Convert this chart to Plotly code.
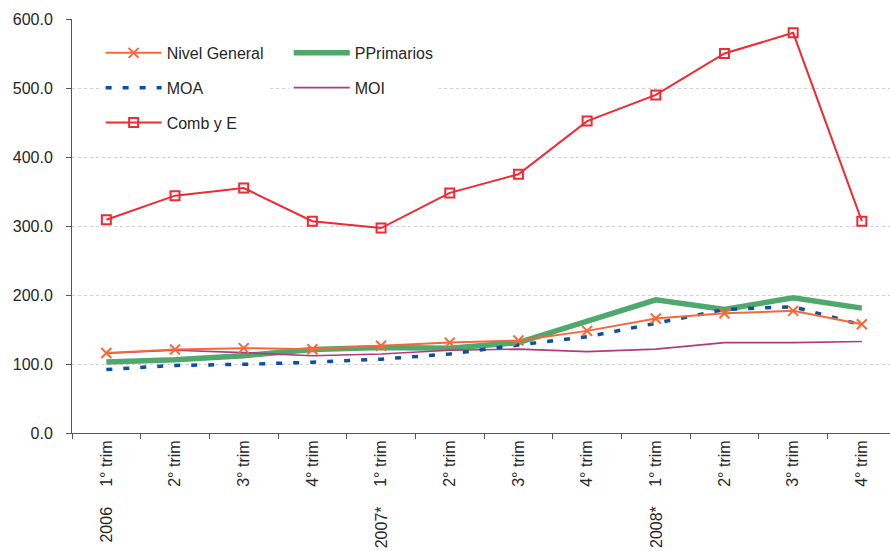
import plotly.graph_objects as go

# Quarterly index series, 2006 - 2008
quarters = ["1° trim", "2° trim", "3° trim", "4° trim"] * 3
year_labels = {0: "2006", 4: "2007*", 8: "2008*"}

nivel_general = [116, 121, 123, 121.5, 126.5, 131, 134, 148, 166, 173.5, 177, 157.5]
pprimarios = [103, 106, 112, 121, 124, 123, 131, 161, 193, 179, 196, 181]
moa = [92, 98, 99.5, 102.5, 107, 114.5, 127.5, 139.5, 159, 179, 183, 156.5]
moi = [115.5, 120, 116.5, 112, 114.5, 120, 121.5, 118, 121.5, 131, 131, 132.5]
comb_y_e = [309, 344, 355, 307, 297, 348, 375, 452, 490, 550, 580, 307]

x_idx = list(range(len(quarters)))

FONT = "Liberation Sans, Arial, sans-serif"
TXT = "#262626"

fig = go.Figure()

fig.add_trace(go.Scatter(
    x=x_idx, y=pprimarios, name="PPrimarios", mode="lines",
    line=dict(color="#4fa86c", width=5.5),
    legend="legend2", legendgroup="pp", legendrank=1,
))
fig.add_trace(go.Scatter(
    x=x_idx, y=moi, name="MOI", mode="lines",
    line=dict(color="#b23a7c", width=1.6),
    legend="legend2", legendgroup="moi", legendrank=2,
))
fig.add_trace(go.Scatter(
    x=x_idx, y=moa, name="MOA", mode="lines",
    line=dict(color="#0f4fa3", width=3.5, dash="6px,11px"),
    legend="legend", legendgroup="moa", legendrank=2,
))
fig.add_trace(go.Scatter(
    x=x_idx, y=nivel_general, name="Nivel General", mode="lines+markers",
    line=dict(color="#f4683a", width=2),
    marker=dict(symbol="x-thin", size=10, line=dict(width=2, color="#f4683a")),
    legend="legend", legendgroup="ng", legendrank=1,
))
fig.add_trace(go.Scatter(
    x=x_idx, y=comb_y_e, name="Comb y E", mode="lines+markers",
    line=dict(color="#ee2a33", width=2),
    marker=dict(symbol="square-open", size=9, line=dict(width=2, color="#ee2a33")),
    legend="legend", legendgroup="ce", legendrank=3,
))

# Year labels under the first quarter of each year
for i, yr in year_labels.items():
    fig.add_annotation(
        x=i, y=-0.172, xref="x", yref="paper", text=yr, showarrow=False,
        textangle=-90, xanchor="center", yanchor="top",
        font=dict(family=FONT, size=16, color=TXT),
    )

legend_common = dict(
    orientation="v", bgcolor="white", borderwidth=0,
    font=dict(family=FONT, size=16, color=TXT),
    traceorder="grouped", tracegroupgap=11, itemwidth=56,
    xanchor="left", yanchor="top",
)

fig.update_layout(
    width=890, height=551,
    margin=dict(l=72, r=0, t=19, b=118),
    paper_bgcolor="white", plot_bgcolor="white",
    font=dict(family=FONT, size=16, color=TXT),
    legend=dict(x=0.035, y=0.959, **legend_common),
    legend2=dict(x=0.265, y=0.959, **legend_common),
    xaxis=dict(
        range=[-0.5, 11.41],
        tickmode="array", tickvals=x_idx, ticktext=quarters,
        tickangle=-90, ticks="", showgrid=False, zeroline=False,
        showline=True, linecolor="#555555", linewidth=1,
        minor=dict(tickmode="array", tickvals=[i - 0.5 for i in range(13)],
                   ticks="outside", ticklen=5, tickcolor="#555555", showgrid=False),
        tickfont=dict(family=FONT, size=16, color=TXT),
    ),
    yaxis=dict(
        range=[0, 600], tickmode="array", tickvals=[0, 100, 200, 300, 400, 500, 600],
        tickformat=".1f", ticks="outside", ticklen=5, tickcolor="#555555",
        showline=True, linecolor="#555555", linewidth=1,
        showgrid=True, gridcolor="#d0d0d0", griddash="dot", gridwidth=1,
        zeroline=False, ticklabelstandoff=10,
        tickfont=dict(family=FONT, size=16, color=TXT),
    ),
)

fig.write_html("out.html")
